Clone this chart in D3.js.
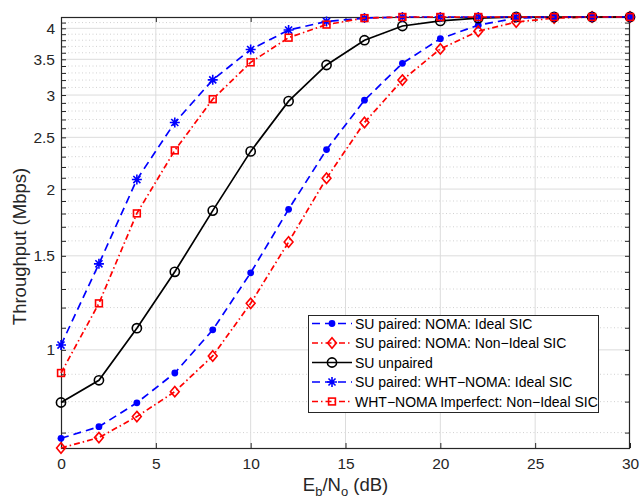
<!DOCTYPE html>
<html>
<head>
<meta charset="utf-8">
<script src="https://cdn.jsdelivr.net/npm/d3@7"></script>
<style>
  html, body { margin: 0; padding: 0; background: #fff; }
  svg { display: block; font-family: "Liberation Sans", Arial, Helvetica, sans-serif; }
</style>
</head>
<body>
<svg id="chart" width="640" height="502"></svg>
<script>
// ---------- data ----------
const ebno = [0, 2, 4, 6, 8, 10, 12, 14, 16, 18, 20, 22, 24, 26, 28, 30];

const suPairedNomaIdeal    = [0.683, 0.718, 0.796, 0.905, 1.090, 1.394, 1.833, 2.371, 2.934, 3.440, 3.825, 4.055, 4.180, 4.200, 4.200, 4.200];
const suPairedNomaNonIdeal = [0.655, 0.685, 0.750, 0.835, 0.974, 1.222, 1.592, 2.096, 2.665, 3.200, 3.660, 3.950, 4.110, 4.180, 4.200, 4.200];
const suUnpaired           = [0.797, 0.877, 1.098, 1.400, 1.823, 2.353, 2.922, 3.415, 3.800, 4.040, 4.130, 4.180, 4.200, 4.200, 4.200, 4.200];
const suPairedWhtIdeal     = [1.021, 1.449, 2.084, 2.665, 3.203, 3.650, 3.970, 4.120, 4.180, 4.200, 4.200, 4.200, 4.200, 4.200, 4.200, 4.200];
const whtImperfectNonIdeal = [0.905, 1.222, 1.801, 2.363, 2.947, 3.454, 3.842, 4.065, 4.180, 4.200, 4.200, 4.200, 4.200, 4.200, 4.200, 4.200];

const seriesLabels = [
  "SU paired: NOMA: Ideal SIC",
  "SU paired: NOMA: Non\u2212Ideal SIC",
  "SU unpaired",
  "SU paired: WHT\u2212NOMA: Ideal SIC",
  "WHT\u2212NOMA Imperfect: Non\u2212Ideal SIC"
];

const xTickValues = [0, 5, 10, 15, 20, 25, 30];
const xTickLabels = ["0", "5", "10", "15", "20", "25", "30"];
const yTickValues = [1, 1.5, 2, 2.5, 3, 3.5, 4];
const yTickLabels = ["1", "1.5", "2", "2.5", "3", "3.5", "4"];
const yMinorTickValues = [0.7, 0.8, 0.9, 1.1, 1.2, 1.3, 1.4, 1.6, 1.7, 1.8, 1.9, 2.1, 2.2, 2.3, 2.4,
                          2.6, 2.7, 2.8, 2.9, 3.1, 3.2, 3.3, 3.4, 3.6, 3.7, 3.8, 3.9, 4.1];

// ---------- styles ----------
const seriesValues = [suPairedNomaIdeal, suPairedNomaNonIdeal, suUnpaired, suPairedWhtIdeal, whtImperfectNonIdeal];
const styles = [
  { color: "#0000ff", dash: "8,5",         marker: "dot" },
  { color: "#ff0000", dash: "6,3,1.5,3",   marker: "diamond" },
  { color: "#000000", dash: null,          marker: "circle" },
  { color: "#0000ff", dash: "8,5",         marker: "asterisk" },
  { color: "#ff0000", dash: "6,3,1.5,3",   marker: "square" }
];

const L = 61, R = 630, T = 17, B = 448;
const svg = d3.select("#chart");

const x = d3.scaleLinear().domain([0, 30]).range([L, R]);
const allVals = seriesValues.flat();
const y = d3.scaleLog().domain(d3.extent(allVals)).range([B, T]);

const axisColor = "#262626";

// ---------- grid ----------
const grid = svg.append("g");
grid.selectAll("line.ymin").data(yMinorTickValues).join("line")
  .attr("x1", L).attr("x2", R)
  .attr("y1", d => y(d)).attr("y2", d => y(d))
  .attr("stroke", "#bdbdbd").attr("stroke-width", 0.7).attr("stroke-dasharray", "1,2.5");
grid.selectAll("line.ymaj").data(yTickValues).join("line")
  .attr("x1", L).attr("x2", R)
  .attr("y1", d => y(d)).attr("y2", d => y(d))
  .attr("stroke", "#dcdcdc").attr("stroke-width", 1);
grid.selectAll("line.xmaj").data(xTickValues.filter(v => v > 0 && v < 30)).join("line")
  .attr("y1", T).attr("y2", B)
  .attr("x1", d => x(d)).attr("x2", d => x(d))
  .attr("stroke", "#dcdcdc").attr("stroke-width", 1);

// ---------- axes ----------
function styleAxis(g) {
  g.select(".domain").remove();
  g.selectAll(".tick line").attr("stroke", axisColor).attr("stroke-width", 1);
  g.selectAll(".tick text").attr("fill", axisColor).style("font-size", "15.5px")
    .style("font-family", "'Liberation Sans', Arial, sans-serif");
}
svg.append("g").attr("transform", `translate(0,${B})`)
  .call(d3.axisBottom(x).tickValues(xTickValues).tickFormat((d, i) => xTickLabels[i]).tickSize(-5).tickPadding(10))
  .call(styleAxis);
svg.append("g").attr("transform", `translate(0,${T})`)
  .call(d3.axisTop(x).tickValues(xTickValues).tickFormat("").tickSize(-5))
  .call(styleAxis);
svg.append("g").attr("transform", `translate(${L},0)`)
  .call(d3.axisLeft(y).tickValues(yTickValues).tickFormat((d, i) => yTickLabels[i]).tickSize(-5).tickPadding(6))
  .call(styleAxis);
svg.append("g").attr("transform", `translate(${L},0)`)
  .call(d3.axisLeft(y).tickValues(yMinorTickValues).tickFormat("").tickSize(-5))
  .call(styleAxis);
svg.append("g").attr("transform", `translate(${R},0)`)
  .call(d3.axisRight(y).tickValues(yTickValues.concat(yMinorTickValues)).tickFormat("").tickSize(-5))
  .call(styleAxis);

svg.append("rect").attr("x", L + 0.5).attr("y", T + 0.5).attr("width", R - L - 1).attr("height", B - T)
  .attr("fill", "none").attr("stroke", axisColor).attr("stroke-width", 1.2);

// ---------- markers ----------
function drawMarker(g, type, cx, cy, color) {
  if (type === "dot") {
    g.append("circle").attr("cx", cx).attr("cy", cy).attr("r", 3.4).attr("fill", color);
  } else if (type === "circle") {
    g.append("circle").attr("cx", cx).attr("cy", cy).attr("r", 4.6)
      .attr("fill", "none").attr("stroke", color).attr("stroke-width", 1.6);
  } else if (type === "diamond") {
    g.append("path").attr("d", `M${cx},${cy - 5.2}L${cx + 4.4},${cy}L${cx},${cy + 5.2}L${cx - 4.4},${cy}Z`)
      .attr("fill", "none").attr("stroke", color).attr("stroke-width", 1.6);
  } else if (type === "square") {
    g.append("rect").attr("x", cx - 3.4).attr("y", cy - 3.4).attr("width", 6.8).attr("height", 6.8)
      .attr("fill", "none").attr("stroke", color).attr("stroke-width", 1.6);
  } else if (type === "asterisk") {
    const r = 5, d = r * 0.707;
    g.append("path").attr("d",
      `M${cx - r},${cy}L${cx + r},${cy}M${cx},${cy - r}L${cx},${cy + r}` +
      `M${cx - d},${cy - d}L${cx + d},${cy + d}M${cx - d},${cy + d}L${cx + d},${cy - d}`)
      .attr("stroke", color).attr("stroke-width", 1.6).attr("fill", "none");
  }
}

// ---------- series ----------
const line = d3.line().x(d => x(d[0])).y(d => y(d[1]));
seriesValues.forEach((vals, i) => {
  const st = styles[i];
  const pts = ebno.map((e, j) => [e, vals[j]]);
  const g = svg.append("g");
  g.append("path").attr("d", line(pts)).attr("fill", "none")
    .attr("stroke", st.color).attr("stroke-width", 1.7)
    .attr("stroke-dasharray", st.dash);
  pts.forEach(p => drawMarker(g, st.marker, x(p[0]), y(p[1]), st.color));
});

// ---------- labels ----------
const xl = svg.append("text").attr("x", (L + R) / 2).attr("y", 491).attr("text-anchor", "middle")
  .attr("fill", axisColor).style("font-size", "18.5px");
xl.append("tspan").text("E");
xl.append("tspan").text("b").attr("dy", 5).style("font-size", "13px");
xl.append("tspan").text("/N").attr("dy", -5);
xl.append("tspan").text("o").attr("dy", 5).style("font-size", "13px");
xl.append("tspan").text(" (dB)").attr("dy", -5);

svg.append("text").attr("transform", `translate(26,${(T + B) / 2 + 14}) rotate(-90)`)
  .attr("text-anchor", "middle").attr("fill", axisColor).style("font-size", "18.5px")
  .text("Throughput (Mbps)");

// ---------- legend ----------
const lg = svg.append("g");
lg.append("rect").attr("x", 308.5).attr("y", 315.5).attr("width", 290).attr("height", 97)
  .attr("fill", "#fff").attr("stroke", axisColor).attr("stroke-width", 1);
seriesLabels.forEach((lab, i) => {
  const st = styles[i];
  const cy = 323.5 + i * 19.5;
  lg.append("line").attr("x1", 312).attr("x2", 352).attr("y1", cy).attr("y2", cy)
    .attr("stroke", st.color).attr("stroke-width", 1.7).attr("stroke-dasharray", st.dash);
  drawMarker(lg, st.marker, 332, cy, st.color);
  lg.append("text").attr("x", 355).attr("y", cy + 5).attr("fill", "#000")
    .style("font-size", "14px").text(lab);
});
</script>
</body>
</html>
